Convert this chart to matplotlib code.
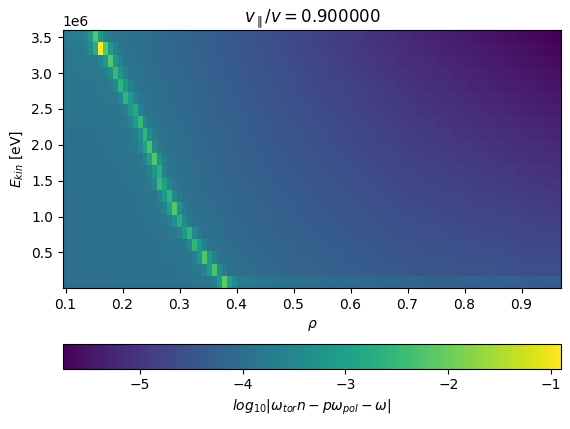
import numpy as np
import matplotlib.pyplot as plt

# grid
rho = np.linspace(0.095, 0.97, 101)
ekin = np.linspace(0.0, 3.6e6, 22)

# resonance position (rho) per energy row, bottom to top
rho_res = [0.38, 0.36, 0.345, 0.33, 0.315, 0.30, 0.29, 0.28, 0.27, 0.262, 0.255,
           0.245, 0.238, 0.228, 0.218, 0.208, 0.198, 0.188, 0.178, 0.163, 0.152]
# peak value per row
peak = [-2.1, -2.3, -2.2, -2.6, -2.6, -2.7, -2.2, -2.6, -2.5, -2.7, -2.2,
        -2.3, -2.6, -2.5, -2.8, -2.6, -2.6, -2.5, -2.2, -0.9, -2.2]
# background level at columns rho_bg, for bottom and top rows
rho_bg = [0.1, 0.3, 0.5, 0.7, 0.97]
bg_bottom = [-4.0, -4.0, -4.2, -4.4, -4.55]
bg_top = [-3.9, -4.2, -4.7, -5.2, -5.75]

rc = 0.5 * (rho[:-1] + rho[1:])
nrow = len(ekin) - 1
Z = np.zeros((nrow, len(rc)))
for i in range(nrow):
    t = i / (nrow - 1)
    bg = (1 - t) * np.interp(rc, rho_bg, bg_bottom) + t * np.interp(rc, rho_bg, bg_top)
    if i == 0:
        bg = bg + 0.2 * (rc > rho_res[i])
    d = np.abs(rc - rho_res[i])
    bump = (peak[i] - bg) * np.exp(-d / 0.012)
    Z[i] = bg + bump
    Z[i] = np.maximum(Z[i], bg + 0.3 * np.exp(-np.abs(rho_res[i] - rc) / 0.06))
    Z[i, np.argmin(d)] = peak[i]

fig, ax = plt.subplots(figsize=(5.7, 4.29), dpi=100)
pc = ax.pcolormesh(rho, ekin, Z, cmap='viridis', vmin=-5.75, vmax=-0.9)
ax.set_xlabel(r'$\rho$')
ax.set_ylabel(r'$E_{kin}$ [eV]')
ax.set_title(r'$v_\parallel/v = 0.900000$')
ax.set_yticks([0.5e6, 1e6, 1.5e6, 2e6, 2.5e6, 3e6, 3.5e6])
cb = fig.colorbar(pc, ax=ax, orientation='horizontal', pad=0.15)
cb.set_label(r'$log_{10}|\omega_{tor} n - p\omega_{pol} - \omega|$')
fig.subplots_adjust(left=0.11, right=0.985, top=0.93, bottom=0.07)
fig.savefig('out.png')
